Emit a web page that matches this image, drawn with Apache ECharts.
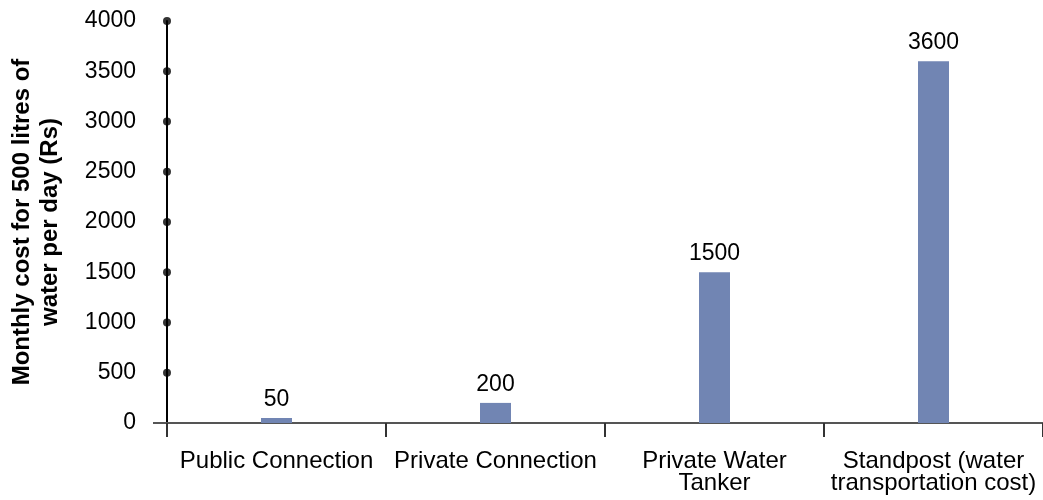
<!DOCTYPE html>
<html>
<head>
<meta charset="utf-8">
<script src="https://cdn.jsdelivr.net/npm/echarts@6/dist/echarts.min.js"></script>
<style>html,body{margin:0;padding:0;background:#fff}#c{width:1043px;height:500px}</style>
</head>
<body>
<div id="c"></div>
<script>
const categories = ['Public Connection', 'Private Connection', 'Private Water\nTanker', 'Standpost (water\ntransportation cost)'];
const costs = [50, 200, 1500, 3600];
const yTicks = [500, 1000, 1500, 2000, 2500, 3000, 3500, 4000];
const yTitle = 'Monthly cost for 500 litres of\nwater per day (Rs)';

const chart = echarts.init(document.getElementById('c'));
chart.setOption({
  animation: false,
  backgroundColor: '#fff',
  grid: { left: 164, right: -3, top: 21, bottom: 77, containLabel: false },
  xAxis: [{
    type: 'category',
    data: categories,
    boundaryGap: true,
    axisLine: { show: true, lineStyle: { color: '#555', width: 2 } },
    axisTick: { show: true, alignWithLabel: false, length: 14, lineStyle: { color: '#333', width: 2 } },
    axisLabel: { color: '#000', fontSize: 24, lineHeight: 22, margin: 27, fontFamily: 'Liberation Sans', interval: 0 },
    splitLine: { show: false }
  }, {
    type: 'value', min: 0, max: 4, show: false
  }],
  yAxis: {
    type: 'value',
    min: 0, max: 4000, interval: 500,
    axisLine: { show: true, onZero: false, lineStyle: { color: '#000', width: 2 } },
    axisTick: { show: true, customValues: [0], length: 14, lineStyle: { color: '#555', width: 2 } },
    axisLabel: { color: '#000', fontSize: 23, margin: 31, fontFamily: 'Liberation Sans', formatter: v => String(v) },
    splitLine: { show: false },
    name: yTitle,
    nameLocation: 'middle',
    nameRotate: 90,
    nameGap: 103,
    nameTextStyle: { color: '#000', fontSize: 24, fontWeight: 'bold', lineHeight: 28, fontFamily: 'Liberation Sans' }
  },
  series: [{
    type: 'bar',
    data: costs,
    barWidth: 31,
    itemStyle: { color: '#7185B3' },
    label: { show: true, position: 'top', distance: 7, color: '#000', fontSize: 23, fontFamily: 'Liberation Sans' }
  }, {
    type: 'scatter',
    xAxisIndex: 1,
    data: yTicks.map(v => [0, v]),
    symbol: 'circle',
    symbolSize: 8,
    itemStyle: { color: '#000' },
    z: 10,
    silent: true
  }]
});
</script>
</body>
</html>
